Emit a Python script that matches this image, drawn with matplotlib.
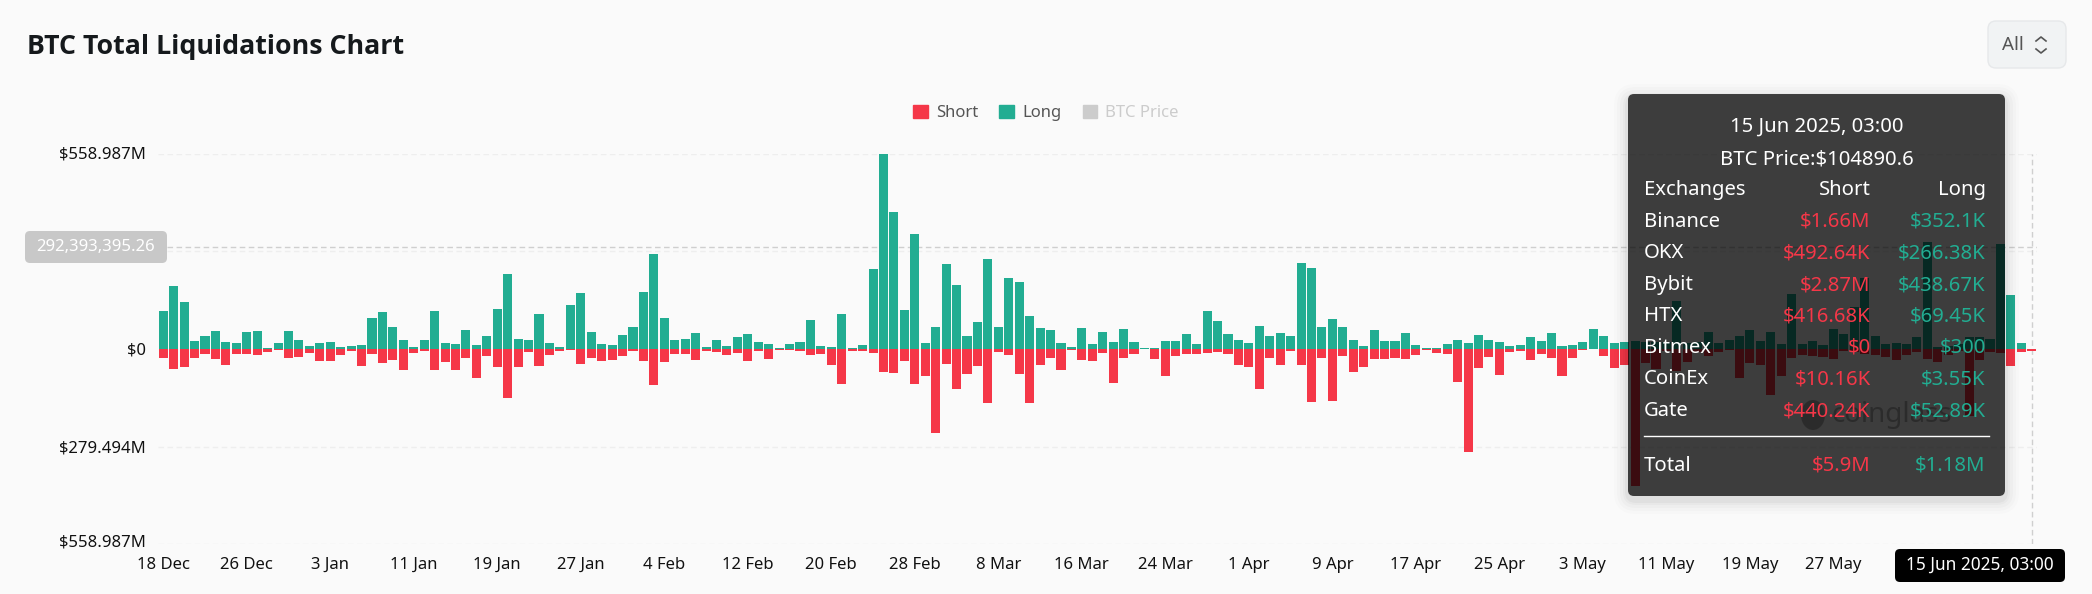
#!/usr/bin/env python3
import matplotlib
matplotlib.use("Agg")
import matplotlib.pyplot as plt
import matplotlib.transforms as mtransforms
from matplotlib.patches import FancyBboxPatch, Ellipse, Patch
import numpy as np
import pandas as pd

# daily liquidations in millions of USD
long_vals = [
    108, 182, 136, 23, 38, 51, 21, 17, 49, 51, 4, 16, 51, 25, 10, 16, 19, 5, 9, 12,
    88, 105, 63, 25, 7, 25, 109, 17, 13, 54, 12, 38, 116, 215, 30, 25, 99, 18, 5, 127,
    161, 50, 15, 11, 40, 62, 163, 271, 88, 25, 29, 46, 6, 25, 9, 33, 43, 19, 13, 3,
    13, 21, 82, 9, 5, 100, 2, 11, 228, 559, 392, 111, 330, 18, 64, 243, 183, 37, 76, 258,
    64, 203, 191, 95, 60, 54, 17, 6, 60, 13, 48, 19, 58, 21, 4, 2, 22, 22, 44, 13,
    108, 79, 44, 27, 18, 65, 38, 47, 37, 246, 232, 64, 86, 63, 26, 9, 55, 22, 22, 45,
    11, 4, 2, 13, 25, 17, 40, 25, 19, 8, 11, 33, 23, 45, 9, 11, 21, 56, 36, 18,
    19, 22, 21, 21, 19, 138, 16, 21, 48, 16, 26, 37, 54, 24, 50, 14, 159, 13, 23, 11,
    57, 42, 121, 204, 37, 13, 16, 15, 34, 306, 5, 10, 14, 33, 33, 28, 301, 154, 18, 1.18,
]
short_vals = [
    25, 56, 52, 27, 13, 29, 47, 15, 13, 18, 10, 3, 27, 24, 11, 34, 33, 18, 5, 48,
    13, 39, 32, 59, 11, 5, 60, 38, 61, 25, 84, 21, 51, 140, 53, 10, 50, 17, 6, 3,
    42, 26, 33, 31, 20, 6, 34, 102, 36, 14, 15, 32, 5, 9, 18, 11, 35, 7, 28, 3,
    2, 7, 17, 13, 47, 99, 6, 6, 12, 67, 68, 34, 100, 77, 242, 44, 116, 72, 48, 156,
    8, 18, 73, 156, 47, 26, 59, 3, 31, 33, 12, 98, 25, 13, 1, 28, 76, 19, 15, 15,
    11, 8, 13, 45, 51, 114, 27, 45, 7, 47, 153, 27, 148, 19, 67, 52, 28, 30, 25, 28,
    17, 3, 11, 15, 95, 296, 54, 22, 74, 8, 7, 31, 15, 27, 78, 26, 3, 1, 21, 55,
    46, 393, 41, 56, 5, 62, 37, 8, 20, 8, 3, 82, 39, 47, 133, 78, 25, 18, 20, 22,
    30, 5, 8, 14, 17, 22, 32, 18, 8, 28, 37, 17, 5, 192, 32, 9, 11, 49, 8, 5.9,
]
dates = pd.date_range("2024-12-18", periods=180)
y_ticks = [558.987, 279.494, 0, -279.494, -558.987]
y_tick_labels = ["$558.987M", "$279.494M", "$0", "$279.494M", "$558.987M"]

exchanges = ["Binance", "OKX", "Bybit", "HTX", "Bitmex", "CoinEx", "Gate"]
tip_short = ["$1.66M", "$492.64K", "$2.87M", "$416.68K", "$0", "$10.16K", "$440.24K"]
tip_long = ["$352.1K", "$266.38K", "$438.67K", "$69.45K", "$300", "$3.55K", "$52.89K"]
row_y = [222, 253.3, 285, 316.3, 348, 379, 411.3]

RED = "#f53748"
GREEN = "#22ad92"
BG = "#fafafa"
W, H = 2092, 594

plt.rcParams["font.family"] = ["Noto Sans", "DejaVu Sans"]

fig = plt.figure(figsize=(W / 100, H / 100), dpi=100, facecolor=BG)
ax = fig.add_axes([158 / W, 50 / H, 1879 / W, 390 / H], facecolor="none")
ident = mtransforms.IdentityTransform()


def px_text(x, y, s, **kw):
    # text placed in picture pixels, y counted from the top
    kw.setdefault("va", "center")
    kw.setdefault("zorder", 8)
    return fig.text(x, H - y, s, transform=ident, **kw)


def px_box(x0, y0, x1, y1, radius, **kw):
    box = FancyBboxPatch((x0, H - y1), x1 - x0, y1 - y0,
                         boxstyle=f"round,pad=0,rounding_size={radius}",
                         transform=ident, **kw)
    fig.add_artist(box)
    return box


x = np.arange(len(dates))
ax.bar(x, long_vals, width=0.87, color=GREEN, zorder=3, label="Long")
ax.bar(x, -np.array(short_vals), width=0.87, color=RED, zorder=3, label="Short")

ax.set_xlim(-0.5, 179.5)
ax.set_ylim(-558.987, 558.987)
ax.set_yticks(y_ticks)
ax.set_yticklabels(y_tick_labels, fontsize=12, color="#111111")
ax.set_xticks(x[::8][:-1])
ax.set_xticklabels([f"{d.day} {d.strftime('%b')}" for d in dates[::8][:-1]],
                   fontsize=12, color="#111111")
ax.tick_params(axis="both", length=0)
ax.tick_params(axis="y", pad=8.5)
ax.tick_params(axis="x", pad=9.2)
# the outer y labels sit a little above their gridlines
for lab, up in zip(ax.get_yticklabels(), [1.3, 0, 0, 0, 3]):
    lab.set_transform(lab.get_transform() + mtransforms.Affine2D().translate(0, up))
for s in ax.spines.values():
    s.set_visible(False)
for t in y_ticks:
    if t != 0:
        ax.axhline(t, color="#eeeeee", lw=1, ls=(0, (4, 2.5)), zorder=1)

# crosshair
ax.axhline(292.393, color="#cfcfcf", lw=1, ls=(0, (4, 2.5)), zorder=2)
ax.plot([x[-1], x[-1]], [-558.987, 558.987], color="#cfcfcf", lw=1,
        ls=(0, (4, 2.5)), zorder=2)
px_box(25, 231, 167, 263, 5, facecolor="#c8c8c8", edgecolor="none", zorder=6)
px_text(96, 247, "292,393,395.26", fontsize=12, color="white", ha="center")
px_box(1895, 549, 2065, 582, 5, facecolor="black", edgecolor="none", zorder=6)
px_text(1980, 565, "15 Jun 2025, 03:00", fontsize=12.4, color="white", ha="center")

# title and range selector
px_text(27, 47, "BTC Total Liquidations Chart", family="Open Sans", fontsize=19.3,
        fontweight="bold", color="#15191c")
px_box(1988, 21, 2066, 68, 8, facecolor="#f1f3f4", edgecolor="#e6e8ea", lw=1, zorder=2)
px_text(2002, 45, "All", fontsize=13.5, color="#555555")
for sign in (-1, 1):
    yy = 45 + sign * np.array([4, 8, 4])
    fig.add_artist(plt.Line2D([2036, 2041, 2046], H - yy, transform=ident,
                              color="#555555", lw=1.2))

# legend
handles = [Patch(color=RED, label="Short"), Patch(color=GREEN, label="Long"),
           Patch(color="#cccccc", label="BTC Price")]
leg = ax.legend(handles=handles, loc="center", ncol=3, frameon=False, fontsize=12,
                bbox_to_anchor=(1046 / W, 1 - 113 / H), bbox_transform=fig.transFigure,
                handlelength=0.88, handleheight=0.88, handletextpad=0.48, columnspacing=1.28,
                borderpad=0, labelcolor=["#555555", "#555555", "#cccccc"])

# watermark, only shows through the tooltip
fig.add_artist(Ellipse((1813, H - 415), 24, 30, transform=ident, facecolor="#b5b5b5",
                       edgecolor="none", zorder=1))
px_text(1892, 415, "coinglass", fontsize=20, fontweight="bold", color="#b5b5b5",
        ha="center", zorder=1)

# tooltip
for grow, a in zip([14, 11, 8, 5, 3], [0.012, 0.015, 0.02, 0.025, 0.03]):
    px_box(1628 - grow, 94 - grow + 4, 2005 + grow, 496 + grow + 4, 8 + grow,
           facecolor="black", edgecolor="none", alpha=a, zorder=6)
px_box(1628, 94, 2005, 496, 6, facecolor=(0, 0, 0, 0.73), edgecolor="none", zorder=7)

TIP = 14.6
px_text(1817, 127, "15 Jun 2025, 03:00", fontsize=TIP, color="white", ha="center")
px_text(1817, 159, "BTC Price:$104890.6", fontsize=TIP, color="white", ha="center")
px_text(1644, 190.3, "Exchanges", fontsize=TIP, color="white")
px_text(1870.7, 190.3, "Short", fontsize=TIP, color="white", ha="right")
px_text(1985.7, 190.3, "Long", fontsize=TIP, color="white", ha="right")
for name, s_val, l_val, yy in zip(exchanges, tip_short, tip_long, row_y):
    px_text(1644, yy, name, fontsize=TIP, color="white")
    px_text(1870.7, yy, s_val, fontsize=TIP, color=RED, ha="right")
    px_text(1985.7, yy, l_val, fontsize=TIP, color=GREEN, ha="right")
fig.add_artist(plt.Line2D([1644, 1989], [H - 436.3, H - 436.3], transform=ident,
                          color="white", lw=1, zorder=8))
px_text(1644, 466, "Total", fontsize=TIP, color="white")
px_text(1870.7, 466, "$5.9M", fontsize=TIP, color=RED, ha="right")
px_text(1985.7, 466, "$1.18M", fontsize=TIP, color=GREEN, ha="right")

fig.savefig("out.png", dpi=100, facecolor=BG)
